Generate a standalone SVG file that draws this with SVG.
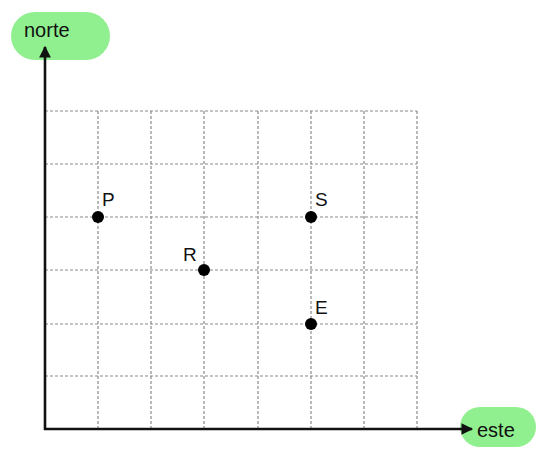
<svg xmlns="http://www.w3.org/2000/svg" width="540" height="450" viewBox="0 0 540 450">
<style>
.grid{stroke:#8a8a8a;stroke-width:1.2;stroke-dasharray:3 2;fill:none}
.axis{stroke:#111;stroke-width:2.6;fill:none}
.pill{fill:#90f090}
.tl{font-family:"Liberation Sans",Arial,sans-serif;font-size:20px;fill:#111}
.lbl{font-family:"Liberation Sans",Arial,sans-serif;font-size:19px;fill:#111}
.pt{fill:#000}
</style>
<defs>
<marker id="ah" viewBox="0 0 10 10" refX="9" refY="5" markerWidth="5" markerHeight="4.5" orient="auto" markerUnits="strokeWidth">
<path d="M0,0 L10,5 L0,10 z" fill="#111"/>
</marker>
</defs>
<g id="grid">
<path class="grid" d="M45,111H417M45,164H417M45,217H417M45,270H417M45,324H417M45,376H417"/>
<path class="grid" d="M98,111V429M151,111V429M204,111V429M258,111V429M311,111V429M364,111V429M417,111V429"/>
</g>
<g id="norte">
<rect class="pill" x="11" y="12" width="99" height="48" rx="24"/>
<text class="tl" x="24" y="37">norte</text>
</g>
<g id="este">
<rect class="pill" x="460" y="407" width="76" height="40" rx="20"/>
<text class="tl" x="477" y="437">este</text>
</g>
<g id="connectors">
<line class="axis" x1="45" y1="430" x2="45" y2="47" marker-end="url(#ah)"/>
<line class="axis" x1="44" y1="429" x2="472" y2="429" marker-end="url(#ah)"/>
</g>
<g id="P"><circle class="pt" cx="98" cy="217" r="6"/><text class="lbl" x="102" y="206">P</text></g>
<g id="S"><circle class="pt" cx="311" cy="217" r="6"/><text class="lbl" x="315" y="206">S</text></g>
<g id="R"><circle class="pt" cx="204" cy="270" r="6"/><text class="lbl" x="183" y="261">R</text></g>
<g id="E"><circle class="pt" cx="311" cy="324" r="6"/><text class="lbl" x="315" y="314">E</text></g>
</svg>
